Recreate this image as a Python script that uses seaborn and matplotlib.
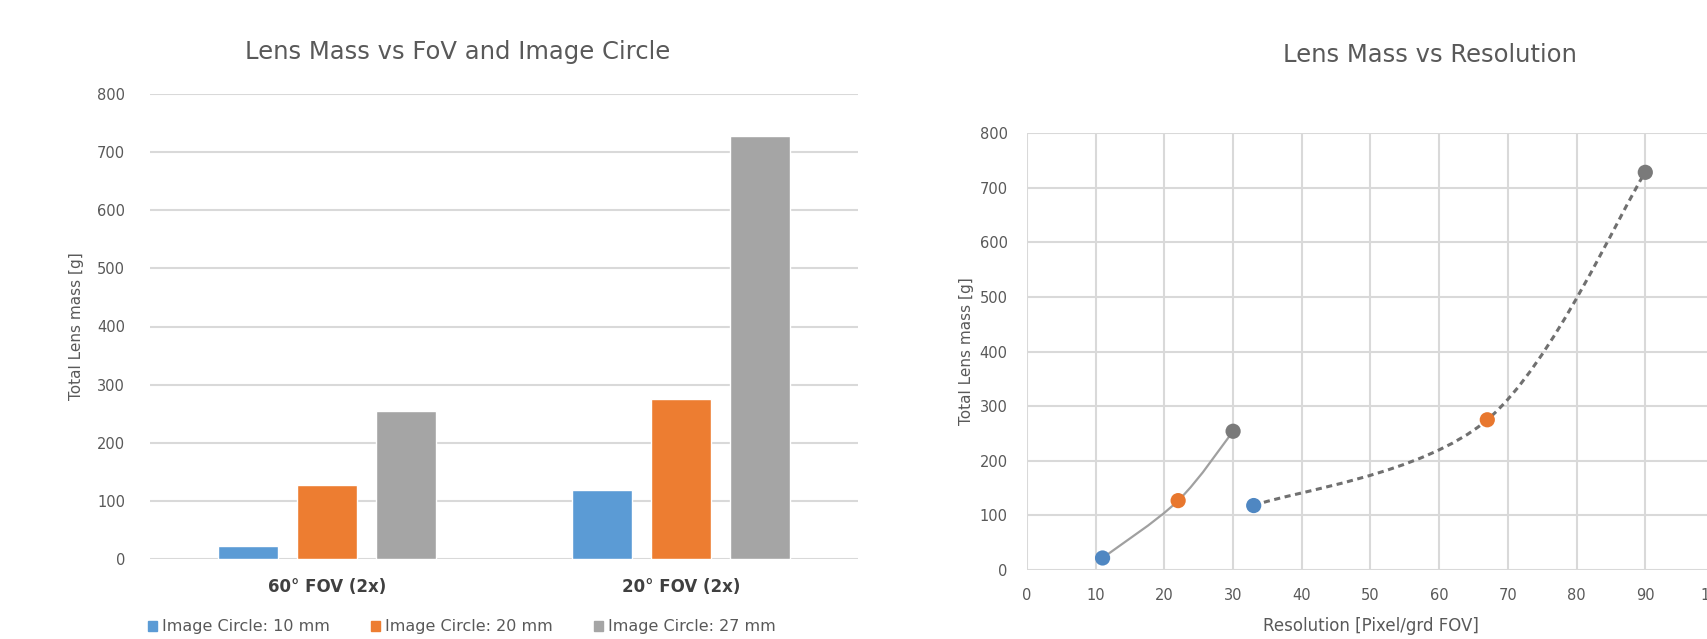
import numpy as np
import pandas as pd
import seaborn as sns
import matplotlib.pyplot as plt
from matplotlib.path import Path
from matplotlib.patches import PathPatch

# data
fov_labels = ['60° FOV (2x)', '20° FOV (2x)']
circle_labels = ['Image Circle: 10 mm', 'Image Circle: 20 mm', 'Image Circle: 27 mm']
mass_60 = [22, 127, 254]
mass_20 = [118, 275, 728]
res_60 = [11, 22, 30]
res_20 = [33, 67, 90]

bar_colors = ['#5B9BD5', '#ED7D31', '#A5A5A5']
dot_colors = ['#4F87C2', '#E8772E', '#7A7A7A']
text_col = '#595959'
grid_col = '#D9D9D9'

sns.set_theme(style='white')
plt.rcParams['font.family'] = ['DejaVu Sans']

df = pd.DataFrame({
    'fov': [fov_labels[0]] * 3 + [fov_labels[1]] * 3,
    'circle': circle_labels * 2,
    'mass': mass_60 + mass_20,
})

W, H = 1708, 639
fig = plt.figure(figsize=(W / 100, H / 100), dpi=100)

# ---- left: grouped bars
ax1 = fig.add_axes([150 / W, (H - 559) / H, 708 / W, 465 / H])
sns.barplot(data=df, x='fov', y='mass', hue='circle', palette=bar_colors,
            width=0.67, gap=0.23, saturation=1, ax=ax1, legend=False)
ax1.set_xlim(-0.5, 1.5)
ax1.set_ylim(0, 800)
ax1.set_yticks(range(0, 801, 100))
ax1.yaxis.grid(True, color=grid_col, lw=1.5)
ax1.set_axisbelow(True)
sns.despine(ax=ax1, left=True, bottom=True)
ax1.tick_params(axis='y', length=0, pad=18, labelsize=10.5, labelcolor=text_col)
ax1.tick_params(axis='x', length=0, pad=14, labelsize=12, labelcolor='#404040')
for t in ax1.get_xticklabels():
    t.set_fontweight('bold')
ax1.set_xlabel('')
ax1.set_ylabel('Total Lens mass [g]', fontsize=11, color=text_col, labelpad=9)
fig.text(458 / W, 1 - 52 / H, 'Lens Mass vs FoV and Image Circle', fontsize=17.5,
         color=text_col, ha='center', va='center')

handles = [plt.Rectangle((0, 0), 1, 1, color=c) for c in bar_colors]
fig.legend(handles, circle_labels, loc='center', ncol=3, frameon=False,
           bbox_to_anchor=(462 / W, 1 - 627 / H), fontsize=11.5,
           handlelength=0.55, handleheight=0.55, handletextpad=0.3,
           columnspacing=2.6, labelcolor=text_col)

# ---- right: mass vs resolution
ax2 = fig.add_axes([1027 / W, (H - 570) / H, 687 / W, 437 / H])
ax2.set_xlim(0, 100)
ax2.set_ylim(0, 800)
ax2.set_xticks(range(0, 101, 10))
ax2.set_yticks(range(0, 801, 100))
ax2.grid(True, color=grid_col, lw=1.5)
ax2.set_axisbelow(True)
sns.despine(ax=ax2, left=True, bottom=True, right=True, top=True)


def smooth_path(xs, ys):
    # Excel-style smoothed line: cubic Bezier with Catmull-Rom tangents
    p = np.column_stack([xs, ys]).astype(float)
    n = len(p)
    verts = [p[0]]
    codes = [Path.MOVETO]
    for i in range(n - 1):
        p0 = p[i - 1] if i > 0 else p[i]
        p3 = p[i + 2] if i + 2 < n else p[i + 1]
        c1 = p[i] + (p[i + 1] - p0) / 6
        c2 = p[i + 1] - (p3 - p[i]) / 6
        verts += [c1, c2, p[i + 1]]
        codes += [Path.CURVE4] * 3
    return Path(verts, codes)


ax2.add_patch(PathPatch(smooth_path(res_60, mass_60), fill=False,
                        ec='#A0A0A0', lw=1.6, zorder=2))
ax2.add_patch(PathPatch(smooth_path(res_20, mass_20), fill=False,
                        ec='#707070', lw=2.2, ls=(0, (2, 1.5)), zorder=2))

pts = pd.DataFrame({
    'res': res_60 + res_20,
    'mass': mass_60 + mass_20,
    'circle': circle_labels * 2,
})
sns.scatterplot(data=pts, x='res', y='mass', hue='circle', palette=dot_colors,
                s=120, linewidth=0, ax=ax2, legend=False, zorder=3, clip_on=False)

ax2.tick_params(axis='both', length=0, labelsize=10.5, labelcolor=text_col)
ax2.tick_params(axis='y', pad=14)
ax2.tick_params(axis='x', pad=13)
ax2.set_xlabel('Resolution [Pixel/grd FOV]', fontsize=12, color=text_col, labelpad=10)
ax2.set_ylabel('Total Lens mass [g]', fontsize=11, color=text_col, labelpad=4)
fig.text(1430 / W, 1 - 55 / H, 'Lens Mass vs Resolution', fontsize=17.5,
         color=text_col, ha='center', va='center')

fig.savefig('out.png', dpi=100)
